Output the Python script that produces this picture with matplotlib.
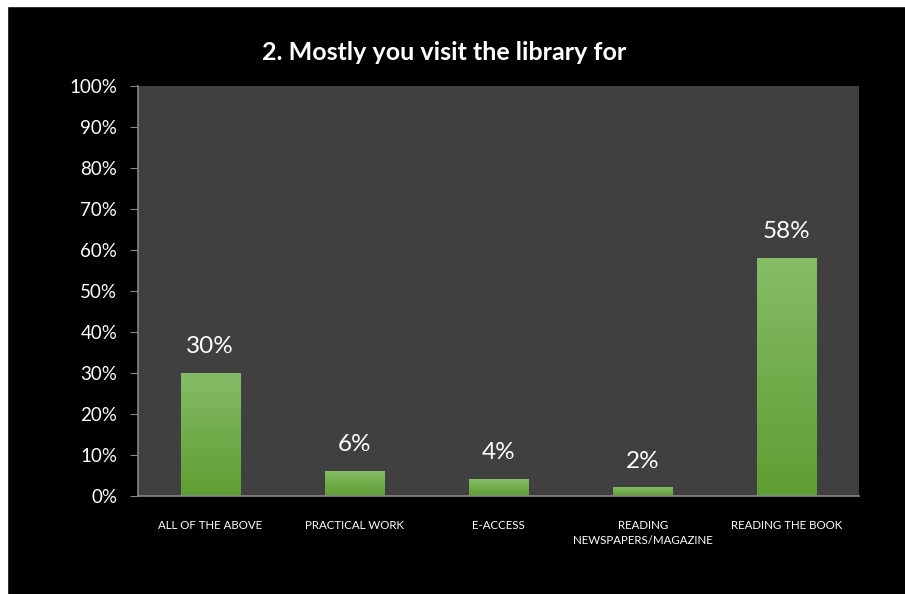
import matplotlib.pyplot as plt
import numpy as np
from matplotlib.colors import LinearSegmentedColormap
from matplotlib.patches import Rectangle

plt.rcParams['font.family'] = ['Lato', 'DejaVu Sans']

categories = ['ALL OF THE ABOVE', 'PRACTICAL WORK', 'E-ACCESS',
              'READING\nNEWSPAPERS/MAGAZINE', 'READING THE BOOK']
percent = [30, 6, 4, 2, 58]
yticks = np.arange(0, 101, 10)

fig = plt.figure(figsize=(9.05, 5.94), dpi=100)
fig.patch.set_facecolor('black')
# thin white strip on top and left edges like the screenshot
fig.patches.append(Rectangle((0, 0), 7/905, 1, transform=fig.transFigure, color='white', zorder=0))
fig.patches.append(Rectangle((0, 1 - 6/594), 1, 6/594, transform=fig.transFigure, color='white', zorder=0))

ax = fig.add_axes([138/905, 98/594, 721/905, 410/594])
ax.set_facecolor('#404040')

x = np.arange(len(categories))
w = 0.41
cmap = LinearSegmentedColormap.from_list('g', ['#5e9e32', '#86bc67'])
grad = np.linspace(0, 1, 256).reshape(-1, 1)
for xi, v in zip(x, percent):
    ax.imshow(grad, extent=[xi - w/2, xi + w/2, 0, v], origin='lower',
              cmap=cmap, aspect='auto', zorder=2)
    ax.text(xi, v + 6.5, f'{v}%', ha='center', va='center', color='white', fontsize=17.5)

ax.set_xlim(-0.5, len(categories) - 0.5)
ax.set_ylim(0, 100)
ax.set_yticks(yticks)
ax.set_yticklabels([f'{t}%' for t in yticks])
ax.set_xticks(x)
ax.set_xticklabels(categories, linespacing=1.45)

for s in ['top', 'right']:
    ax.spines[s].set_visible(False)
for s in ['left', 'bottom']:
    ax.spines[s].set_color('#868686')
    ax.spines[s].set_linewidth(1.2)
ax.tick_params(axis='y', colors='#868686', labelcolor='white', labelsize=13.5, length=6, pad=9)
ax.tick_params(axis='x', length=0, labelcolor='white', labelsize=8.3, pad=17)

fig.text(444/905, 1 - 53/594, '2. Mostly you visit the library for', ha='center', va='center',
         color='white', fontsize=18, fontweight='bold')

fig.savefig('out.png', dpi=100, facecolor=fig.get_facecolor())
